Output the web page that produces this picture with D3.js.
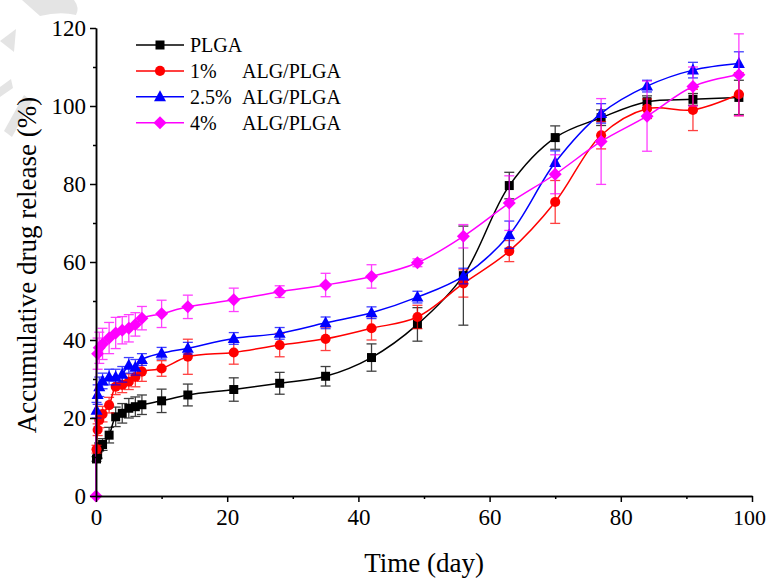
<!DOCTYPE html>
<html>
<head>
<meta charset="utf-8">
<script src="https://cdn.jsdelivr.net/npm/d3@7"></script>
<style>
  html, body { margin: 0; padding: 0; background: #fff; }
  svg { display: block; }
  text { font-family: "Liberation Serif", "Times New Roman", serif; fill: #000; }
</style>
</head>
<body>
<svg id="chart" width="768" height="578"></svg>
<script>
// ---- data ----
const days = [0.08, 0.25, 0.5, 1, 2, 3, 4, 5, 6, 7, 10, 14, 21, 28, 35, 42, 49, 56, 63, 70, 77, 84, 91, 98];

const plga     = [9.5, 10.5, 12.6, 13.2, 15.6, 20.3, 21.2, 22.5, 22.9, 23.4, 24.4, 25.9, 27.3, 28.9, 30.7, 35.5, 44.0, 56.5, 79.6, 91.9, 97.0, 101.1, 101.7, 102.2];
const plgaErr  = [0.6, 0.8, 1.0, 1.5, 2.0, 2.5, 2.5, 2.5, 2.5, 2.5, 3.0, 2.8, 3.0, 2.8, 2.5, 3.5, 4.3, 12.7, 3.4, 3.0, 2.0, 1.5, 1.5, 4.4];

const alg1     = [12.0, 17.0, 19.5, 21.0, 23.3, 28.0, 28.5, 29.3, 30.5, 31.9, 32.7, 35.7, 36.8, 38.7, 40.3, 43.0, 45.9, 54.5, 62.8, 75.4, 92.5, 99.3, 99.0, 103.0];
const alg1Err  = [1.0, 1.5, 2.0, 2.0, 2.0, 2.0, 2.0, 2.0, 2.5, 2.5, 2.0, 4.5, 3.0, 3.0, 3.0, 3.0, 3.0, 3.5, 2.7, 5.5, 3.5, 2.5, 5.3, 5.5];

const alg25    = [22.0, 26.0, 28.0, 29.5, 30.5, 30.5, 31.2, 33.5, 33.0, 35.0, 36.6, 37.9, 40.4, 41.7, 44.4, 47.0, 51.0, 56.4, 67.0, 85.5, 98.1, 105.1, 109.2, 110.9];
const alg25Err = [2.0, 2.5, 2.5, 2.0, 2.0, 2.0, 2.0, 2.0, 2.0, 1.5, 1.5, 1.5, 1.5, 1.5, 1.5, 1.5, 1.5, 2.0, 3.5, 3.0, 2.5, 1.5, 2.0, 3.0];

const alg4Days = [0, 0.25, 0.5, 1, 2, 3, 4, 5, 6, 7, 10, 14, 21, 28, 35, 42, 49, 56, 63, 70, 77, 84, 91, 98];
const alg4     = [0, 36.5, 38.0, 39.0, 40.5, 41.8, 42.5, 43.0, 44.0, 45.6, 46.7, 48.5, 50.3, 52.4, 54.1, 56.3, 59.8, 66.6, 75.1, 82.5, 90.9, 97.4, 105.0, 108.0];
const alg4Err  = [0, 4.0, 4.0, 4.0, 4.0, 4.0, 3.5, 3.5, 3.0, 3.0, 3.5, 3.0, 3.0, 1.5, 3.0, 3.0, 1.0, 3.0, 7.0, 5.0, 11.0, 9.0, 5.0, 10.5];

const seriesNames = ["PLGA", "1%", "2.5%", "4%"];
const seriesColors = ["#000000", "#ff0000", "#0000ff", "#ff00ff"];
const seriesShapes = ["square", "circle", "triangle", "diamond"];

const yTicks = [0, 20, 40, 60, 80, 100, 120];
const xTicks = [0, 20, 40, 60, 80, 100];

// ---- layout ----
const svg = d3.select("#chart");
const W = 768, H = 578;
const m = { left: 96, right: W - 752, top: 28, bottom: H - 496 };
const FONT = '"Liberation Serif", "Times New Roman", serif';

const x = d3.scaleLinear().domain([0, 100]).range([m.left, W - m.right]);
const y = d3.scaleLinear().domain([0, 120]).range([H - m.bottom, m.top]);

// faint watermark fragments at top-left
const wm = svg.append("g").attr("fill", "#e4e4e4");
wm.append("path").attr("d", "M22,0 L74,0 Q80,8 76,15 Q60,11 40,16 Z");
wm.append("path").attr("d", "M16,29 L0,41 L14,52 Z");
wm.append("path").attr("d", "M11,79 L0,87 L0,97 L13,88 Z");
wm.append("path").attr("d", "M24,95 L32,101 L12,137 L4,131 Z");

const series = [
  { name: seriesNames[0], xs: days, vals: plga, errs: plgaErr },
  { name: seriesNames[1], xs: days, vals: alg1, errs: alg1Err },
  { name: seriesNames[2], xs: days, vals: alg25, errs: alg25Err },
  { name: seriesNames[3], xs: alg4Days, vals: alg4, errs: alg4Err }
].map((s, i) => ({ ...s, color: seriesColors[i], shape: seriesShapes[i],
  pts: s.xs.map((d, j) => ({ t: d, v: s.vals[j], e: s.errs[j] })) }));

function markerPath(shape) {
  if (shape === "square") return "M-4.5,-4.5H4.5V4.5H-4.5Z";
  if (shape === "circle") return d3.symbol(d3.symbolCircle, 80)();
  if (shape === "triangle") return "M0,-6.5L6,4.5L-6,4.5Z";
  return "M0,-6.5L6.5,0L0,6.5L-6.5,0Z";
}

const line = d3.line().x(d => x(d.t)).y(d => y(d.v)).curve(d3.curveCatmullRom.alpha(0.5));

const plot = svg.append("g");
series.forEach(s => {
  const g = plot.append("g");
  // error bars
  const eb = g.append("g").attr("stroke", s.color).attr("stroke-width", 1.3).attr("opacity", 0.75);
  s.pts.filter(p => p.e > 0).forEach(p => {
    const px = x(p.t), y1 = y(p.v + p.e), y2 = y(p.v - p.e);
    eb.append("line").attr("x1", px).attr("x2", px).attr("y1", y1).attr("y2", y2);
    eb.append("line").attr("x1", px - 5).attr("x2", px + 5).attr("y1", y1).attr("y2", y1);
    eb.append("line").attr("x1", px - 5).attr("x2", px + 5).attr("y1", y2).attr("y2", y2);
  });
  g.append("path").attr("d", line(s.pts)).attr("fill", "none")
    .attr("stroke", s.color).attr("stroke-width", 1.5);
  g.selectAll("path.mk").data(s.pts).join("path").attr("class", "mk")
    .attr("d", markerPath(s.shape))
    .attr("transform", d => `translate(${x(d.t)},${y(d.v)})`)
    .attr("fill", s.color);
});

// ---- axes ----
const axStyle = sel => {
  sel.attr("font-family", null);
  sel.selectAll("path.domain").attr("stroke", "#000").attr("stroke-width", 1.5);
  sel.selectAll(".tick line").attr("stroke", "#000").attr("stroke-width", 1.5);
  sel.selectAll("text").style("font-family", FONT).style("font-size", "23px").attr("fill", "#000");
};

svg.append("g").attr("transform", `translate(${m.left},0)`)
  .call(d3.axisLeft(y).tickValues(yTicks).tickSize(6).tickSizeOuter(0).tickPadding(4))
  .call(axStyle);
svg.append("g").attr("transform", `translate(${m.left},0)`)
  .call(d3.axisLeft(y).tickValues(d3.range(10, 120, 20)).tickSize(3).tickFormat("").tickSizeOuter(0))
  .call(axStyle);

const xAxis = svg.append("g").attr("transform", `translate(0,${H - m.bottom})`)
  .call(d3.axisBottom(x).tickValues(xTicks).tickSize(6).tickSizeOuter(0).tickPadding(7))
  .call(axStyle);
// keep the last label inside the frame
xAxis.selectAll(".tick text").filter(d => d === 100).attr("dx", -3).style("font-size", "22px");
svg.append("g").attr("transform", `translate(0,${H - m.bottom})`)
  .call(d3.axisBottom(x).tickValues(d3.range(10, 100, 20)).tickSize(3).tickFormat("").tickSizeOuter(0))
  .call(axStyle);

svg.append("text").attr("x", 424).attr("y", 572)
  .attr("text-anchor", "middle").style("font-size", "27px").text("Time (day)");
svg.append("text").attr("transform", `translate(36,265) rotate(-90)`)
  .attr("text-anchor", "middle").style("font-size", "27px").text("Accumulative drug release (%)");

// ---- legend ----
const leg = svg.append("g").attr("transform", "translate(136,45)");
series.forEach((s, i) => {
  const r = leg.append("g").attr("transform", `translate(0,${i * 25.9})`);
  r.append("line").attr("x1", 0).attr("x2", 48).attr("stroke", s.color).attr("stroke-width", 1.5);
  r.append("path").attr("d", markerPath(s.shape)).attr("transform", "translate(24,0)").attr("fill", s.color);
  r.append("text").attr("x", 54).attr("y", 7).style("font-size", "20px").text(s.name);
  if (i > 0) r.append("text").attr("x", 106).attr("y", 7).style("font-size", "20px").text("ALG/PLGA");
});
</script>
</body>
</html>
